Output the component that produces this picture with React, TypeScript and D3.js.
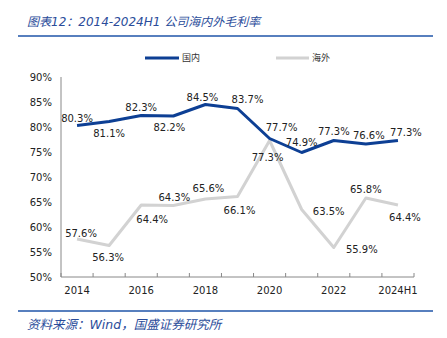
import React from "react";
import * as d3 from "d3";

const categories = ["2014", "2015", "2016", "2017", "2018", "2019", "2020", "2021", "2022", "2023", "2024H1"];
const tickLabels = ["2014", "", "2016", "", "2018", "", "2020", "", "2022", "", "2024H1"];
const domestic = [80.3, 81.1, 82.3, 82.2, 84.5, 83.7, 77.7, 74.9, 77.3, 76.6, 77.3];
const overseas = [57.6, 56.3, 64.4, 64.3, 65.6, 66.1, 77.3, 63.5, 55.9, 65.8, 64.4];
const yTicks = [50, 55, 60, 65, 70, 75, 80, 85, 90];

// label placement offsets (dx, dy of label centre relative to point)
const domesticLabelOffsets: [number, number][] = [
  [0, -7.5], [0, 11.5], [0, -8.5], [-4, 11], [-3, -7.5], [10, -9.5],
  [12, -11.5], [0, -10.5], [0, -9.5], [3, -9], [8, -8],
];
const overseasLabelOffsets: [number, number][] = [
  [4, -6], [-1, 11.5], [11, 14], [1, -8.5], [3, -11], [2, 13.5],
  [-2, 16.5], [27, 1.5], [28, 1.5], [0, -9], [7, 12],
];

const BLUE = "#0D3F94";
const GRAY = "#D2D2D2";
const TITLE_BLUE = "#2A4C9A";
const RULE_BLUE = "#1F55A8";
const FONT = "'DejaVu Sans', 'Noto Sans CJK SC', sans-serif";

export default function App() {
  const W = 447, H = 338;
  const x = d3.scaleBand<string>().domain(categories).range([61, 414]);
  const y = d3.scaleLinear().domain([50, 90]).range([277, 77]);
  const cx = (c: string) => (x(c) as number) + x.bandwidth() / 2;

  const line = d3.line<number>()
    .x((_, i) => cx(categories[i]))
    .y((d) => y(d));

  const boundaries = categories.map((c) => x(c) as number).concat([414]);

  const renderLabels = (vals: number[], offs: [number, number][]) =>
    vals.map((v, i) => (
      <text
        key={i}
        x={cx(categories[i]) + offs[i][0]}
        y={y(v) + offs[i][1] + 3.6}
        textAnchor="middle"
        fontSize={10}
        fontFamily={FONT}
        fill="#222"
      >
        {v.toFixed(1)}%
      </text>
    ));

  return (
    <svg width={W} height={H} style={{ position: "absolute", left: 0, top: 0, background: "#fff" }}>
      {/* title */}
      <text x={27} y={26} fontSize={12} fontStyle="italic" fill={TITLE_BLUE}
        fontFamily="'DejaVu Sans', 'Noto Sans CJK SC', sans-serif">
        图表12：2014-2024H1 公司海内外毛利率
      </text>
      <line x1={18} x2={433} y1={36} y2={36} stroke={RULE_BLUE} strokeWidth={1.5} />

      {/* legend */}
      <line x1={145} x2={179} y1={58} y2={58} stroke={BLUE} strokeWidth={3} />
      <text x={182} y={61} fontSize={9} fontFamily="'Noto Sans CJK SC', sans-serif" fill="#333">国内</text>
      <line x1={276} x2={309} y1={58} y2={58} stroke={GRAY} strokeWidth={3} />
      <text x={312} y={61} fontSize={9} fontFamily="'Noto Sans CJK SC', sans-serif" fill="#333">海外</text>

      {/* y axis */}
      <line x1={61} x2={61} y1={y(90)} y2={y(50)} stroke="#888" strokeWidth={1} />
      {yTicks.map((t) => (
        <text key={t} x={52} y={y(t) + 3.6} textAnchor="end" fontSize={10} fontFamily={FONT} fill="#222">
          {t}%
        </text>
      ))}

      {/* x axis */}
      <line x1={61} x2={414} y1={277} y2={277} stroke="#888" strokeWidth={1} />
      {boundaries.map((b, i) => (
        <line key={i} x1={b} x2={b} y1={273} y2={277} stroke="#888" strokeWidth={1} />
      ))}
      {categories.map((c, i) => (
        <text key={c} x={cx(c)} y={294} textAnchor="middle" fontSize={10} fontFamily={FONT} fill="#222">
          {tickLabels[i]}
        </text>
      ))}

      {/* series */}
      <path d={line(overseas) || ""} fill="none" stroke={GRAY} strokeWidth={3} strokeLinejoin="round" />
      <path d={line(domestic) || ""} fill="none" stroke={BLUE} strokeWidth={3} strokeLinejoin="round" />

      {renderLabels(domestic, domesticLabelOffsets)}
      {renderLabels(overseas, overseasLabelOffsets)}

      {/* footer */}
      <line x1={18} x2={433} y1={311} y2={311} stroke={RULE_BLUE} strokeWidth={1.5} />
      <text x={27} y={329} fontSize={12.5} fontStyle="italic" fill={TITLE_BLUE}
        fontFamily="'DejaVu Sans', 'Noto Sans CJK SC', sans-serif">
        资料来源：Wind，国盛证券研究所
      </text>
    </svg>
  );
}
